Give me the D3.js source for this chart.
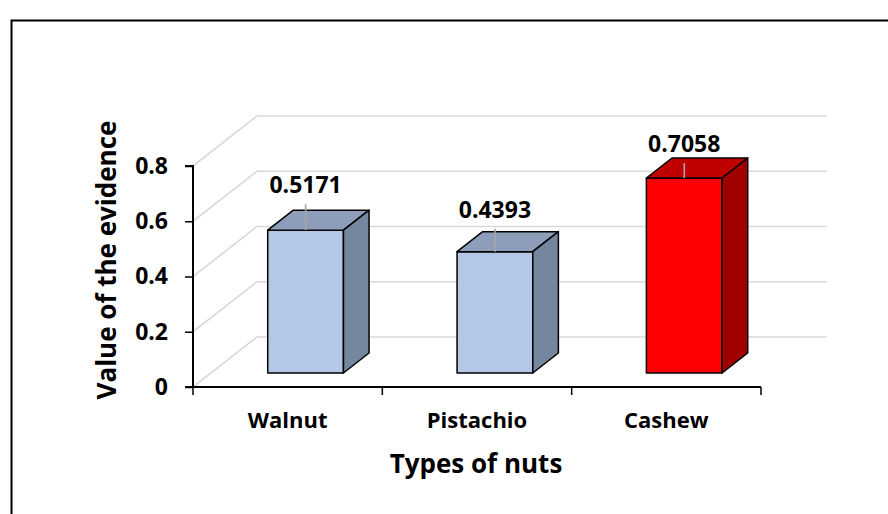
<!DOCTYPE html>
<html>
<head>
<meta charset="utf-8">
<script src="https://cdn.jsdelivr.net/npm/d3@7"></script>
<style>
  html, body { margin: 0; padding: 0; background: #fff; }
  svg { display: block; }
  text { font-family: "Open Sans", "DejaVu Sans", sans-serif; font-weight: 700; fill: #000; }
</style>
</head>
<body>
<svg id="chart" width="888" height="514"></svg>
<script>
// Chart data
const categories = ["Walnut", "Pistachio", "Cashew"];
const values = [0.5171, 0.4393, 0.7058];
const errors = [0.094, 0.083, 0.054];
const yTicks = [0, 0.2, 0.4, 0.6, 0.8];
const yTickLabels = ["0", "0.2", "0.4", "0.6", "0.8"];

// Face colours: [front, top, side]
const blueFaces = ["#b4c7e7", "#8e9db9", "#75869f"];
const redFaces = ["#ff0000", "#c00000", "#a00000"];
const barFaces = [blueFaces, blueFaces, redFaces];

(function () {
  const svg = d3.select("#chart");
  const W = 888, H = 514;
  svg.append("rect").attr("width", W).attr("height", H).attr("fill", "#fff");

  // Outer frame (open on the right and bottom)
  svg.append("path")
    .attr("d", "M11.5,514 V20.5 H888")
    .attr("fill", "none").attr("stroke", "#000").attr("stroke-width", 2);

  // Plot geometry: front plane and depth vector of the 3D box
  const plotLeft = 193, plotRight = 761, plotBottom = 387, plotTop = 166;
  const depth = { dx: 64, dy: -50 };
  const backRight = 827;

  const x = d3.scaleBand().domain(categories).range([plotLeft, plotRight]).paddingInner(0).paddingOuter(0);
  const y = d3.scaleLinear().domain([0, 0.8]).range([plotBottom, plotTop]);

  // Bar placement inside the depth and along the band
  const barDepthStart = 0.28, barDepth = 0.4, barWidthFrac = 0.4;

  // Gridlines: side diagonal then along the back wall
  const grid = svg.append("g");
  yTicks.forEach(t => {
    const y0 = y(t);
    grid.append("path")
      .attr("d", `M${plotLeft},${y0} L${plotLeft + depth.dx},${y0 + depth.dy} L${backRight},${y0 + depth.dy}`)
      .attr("fill", "none").attr("stroke", "#d9d9d9").attr("stroke-width", 1.6);
  });

  // Bars as 3D boxes
  const bars = svg.append("g");
  categories.forEach((c, i) => {
    const bw = x.bandwidth() * barWidthFrac;
    const cx = x(c) + x.bandwidth() / 2 + depth.dx * barDepthStart;
    const x0 = cx - bw / 2, x1 = cx + bw / 2;
    const yb = y(0) + depth.dy * barDepthStart;
    const yt = y(values[i]) + depth.dy * barDepthStart;
    const ddx = depth.dx * barDepth, ddy = depth.dy * barDepth;
    const [fFront, fTop, fSide] = barFaces[i];
    const g = bars.append("g").attr("stroke", "#000").attr("stroke-width", 1.5).attr("stroke-linejoin", "round");
    g.append("path").attr("d", `M${x0},${yb} L${x0},${yt} L${x1},${yt} L${x1},${yb} Z`).attr("fill", fFront);
    g.append("path").attr("d", `M${x0},${yt} L${x0 + ddx},${yt + ddy} L${x1 + ddx},${yt + ddy} L${x1},${yt} Z`).attr("fill", fTop);
    g.append("path").attr("d", `M${x1},${yt} L${x1 + ddx},${yt + ddy} L${x1 + ddx},${yb + ddy} L${x1},${yb} Z`).attr("fill", fSide);

    // Error bar
    const ye = y(values[i] + errors[i]) + depth.dy * barDepthStart;
    bars.append("line")
      .attr("x1", cx).attr("x2", cx).attr("y1", yt).attr("y2", ye)
      .attr("stroke", "#a6a6a6").attr("stroke-width", 1.6);

    // Value label
    bars.append("text")
      .attr("x", cx).attr("y", ye - 11)
      .attr("text-anchor", "middle")
      .style("font-size", "23px")
      .text(values[i].toFixed(4));
  });

  // Y axis
  const yAxis = svg.append("g")
    .attr("transform", `translate(${plotLeft},0)`)
    .call(d3.axisLeft(y).tickValues(yTicks).tickFormat((d, i) => yTickLabels[i]).tickSize(8).tickPadding(17));
  yAxis.select(".domain").attr("stroke", "#000").attr("stroke-width", 2).attr("d", `M-8,${plotTop}H0V${plotBottom}H-8`);
  yAxis.selectAll(".tick line").attr("stroke", "#000").attr("stroke-width", 1.5);
  yAxis.selectAll(".tick text").style("font-size", "23px").style("font-family", "'Open Sans', sans-serif").style("font-weight", 700).attr("fill", "#000");

  // X axis: category labels centred in bands, ticks on band boundaries
  const xAxis = svg.append("g")
    .attr("transform", `translate(0,${plotBottom})`)
    .call(d3.axisBottom(x).tickSize(0).tickPadding(25));
  xAxis.select(".domain").attr("stroke", "#000").attr("stroke-width", 2).attr("d", `M${plotLeft},0H${plotRight}`);
  xAxis.selectAll(".tick text").style("font-size", "22px").style("font-family", "'Open Sans', sans-serif").style("font-weight", 700).attr("fill", "#000");
  const boundaries = categories.map(c => x(c)).concat([x(categories[categories.length - 1]) + x.bandwidth()]);
  xAxis.selectAll(".bound").data(boundaries).enter().append("line")
    .attr("class", "bound")
    .attr("x1", d => d).attr("x2", d => d).attr("y1", 0).attr("y2", 8)
    .attr("stroke", "#000").attr("stroke-width", 1.5);

  // Axis titles
  svg.append("text")
    .attr("x", (plotLeft + plotRight) / 2 - 1).attr("y", 473)
    .attr("text-anchor", "middle")
    .style("font-size", "26px")
    .text("Types of nuts");

  svg.append("text")
    .attr("transform", "translate(116,260) rotate(-90)")
    .attr("text-anchor", "middle")
    .style("font-size", "26px")
    .text("Value of the evidence");
})();
</script>
</body>
</html>
